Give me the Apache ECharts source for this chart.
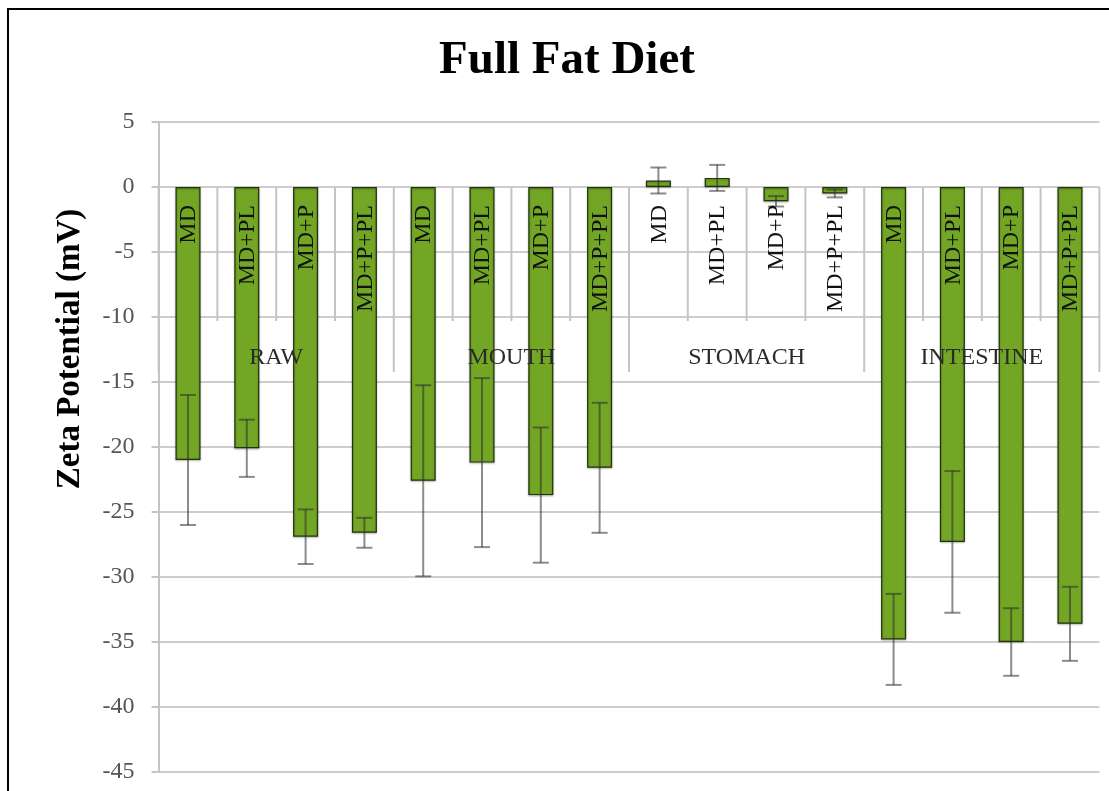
<!DOCTYPE html>
<html>
<head>
<meta charset="utf-8">
<script src="https://cdn.jsdelivr.net/npm/echarts@6/dist/echarts.min.js"></script>
<style>
  html, body { margin: 0; padding: 0; background: #fff; }
  #chart { width: 1109px; height: 791px; }
</style>
</head>
<body>
<div id="chart"></div>
<script>
// Treatment groups and the four formulations measured in each
const groups = ['RAW', 'MOUTH', 'STOMACH', 'INTESTINE'];
const formulations = ['MD', 'MD+PL', 'MD+P', 'MD+P+PL'];

// Mean zeta potential (mV), in group order
const zeta = [
  -21.0, -20.1, -26.9, -26.6,   // RAW
  -22.6, -21.2, -23.7, -21.6,   // MOUTH
   0.5,   0.7,  -1.1,  -0.5,    // STOMACH
  -34.8, -27.3, -35.0, -33.6    // INTESTINE
];

// Standard deviation (mV)
const zetaSD = [
  5.0, 2.2, 2.1, 1.15,
  7.35, 6.5, 5.2, 5.0,
  1.0, 1.0, 0.4, 0.3,
  3.5, 5.45, 2.6, 2.85
];

// Y axis range
const yMin = -45, yMax = 5, yStep = 5;

const SERIF = '"Liberation Serif", "DejaVu Serif", serif';

const categories = [];
groups.forEach(g => formulations.forEach(f => categories.push(g + ' ' + f)));
const subLabels = categories.map((c, i) => formulations[i % formulations.length]);

const errData = zeta.map((v, i) => [i, v - zetaSD[i], v + zetaSD[i]]);
const axisData = categories.map((c, i) => [i, 0]);

const chart = echarts.init(document.getElementById('chart'), null, { renderer: 'canvas' });

// Error bars: whisker + caps, semi-transparent so they show darker over the bars
function renderError(params, api) {
  const i = api.value(0);
  const lo = api.coord([i, api.value(1)]);
  const hi = api.coord([i, api.value(2)]);
  const cap = 8;
  const style = { stroke: 'rgba(45,45,45,0.55)', lineWidth: 2 };
  return {
    type: 'group',
    children: [
      { type: 'line', shape: { x1: lo[0], y1: lo[1], x2: hi[0], y2: hi[1] }, style },
      { type: 'line', shape: { x1: lo[0] - cap, y1: lo[1], x2: lo[0] + cap, y2: lo[1] }, style },
      { type: 'line', shape: { x1: hi[0] - cap, y1: hi[1], x2: hi[0] + cap, y2: hi[1] }, style }
    ]
  };
}

// Two-level category axis drawn at the zero line: separators, formulation names, group names
function renderAxis(params, api) {
  const i = api.value(0);
  const c = api.coord([i, 0]);
  const band = api.size([1, 0])[0];
  const per = formulations.length;
  const children = [];
  const sepStyle = { stroke: '#c4c4c4', lineWidth: 2 };
  const leftX = c[0] - band / 2;
  const rightX = c[0] + band / 2;
  // left separator of this category
  const isGroupStart = i % per === 0;
  children.push({
    type: 'line',
    shape: { x1: leftX, y1: c[1], x2: leftX, y2: c[1] + (isGroupStart ? 185 : 134) },
    style: sepStyle
  });
  if (i === categories.length - 1) {
    children.push({
      type: 'line',
      shape: { x1: rightX, y1: c[1], x2: rightX, y2: c[1] + 185 },
      style: sepStyle
    });
  }
  // formulation name, reading upward
  children.push({
    type: 'text',
    x: c[0] + 1,
    y: c[1] + 18,
    rotation: Math.PI / 2,
    style: {
      text: subLabels[i],
      font: '24px ' + SERIF,
      fill: '#111',
      align: 'right',
      verticalAlign: 'middle'
    },
    z2: 10
  });
  // group name, centred under its four bars (right edge of the second band)
  if (i % per === 1) {
    children.push({
      type: 'text',
      x: rightX,
      y: c[1] + 171,
      style: {
        text: groups[Math.floor(i / per)],
        font: '24px ' + SERIF,
        fill: '#2a2a2a',
        align: 'center',
        verticalAlign: 'middle'
      },
      z2: 10
    });
  }
  return { type: 'group', children };
}

const option = {
  backgroundColor: '#fff',
  animation: false,
  title: {
    text: 'Full Fat Diet',
    left: 562,
    top: 32,
    textAlign: 'center',
    textStyle: { fontFamily: SERIF, fontWeight: 'bold', fontSize: 47, color: '#000' }
  },
  graphic: [
    {
      type: 'rect',
      shape: { x: 8, y: 9, width: 1200, height: 900 },
      style: { fill: 'none', stroke: '#000', lineWidth: 2 },
      silent: true
    },
    {
      type: 'text',
      x: 70,
      y: 349,
      rotation: Math.PI / 2,
      style: {
        text: 'Zeta Potential (mV)',
        font: 'bold 33px ' + SERIF,
        fill: '#000',
        align: 'center',
        verticalAlign: 'middle'
      }
    }
  ],
  grid: { left: 158.6, right: 9.6, top: 122, bottom: 19, containLabel: false },
  xAxis: {
    type: 'category',
    data: categories,
    boundaryGap: true,
    axisLine: { show: false },
    axisTick: { show: false },
    axisLabel: { show: false },
    splitLine: { show: false }
  },
  yAxis: {
    type: 'value',
    min: yMin,
    max: yMax,
    interval: yStep,
    axisLine: { show: true, lineStyle: { color: '#c4c4c4', width: 2 } },
    axisTick: { show: true, length: 7, lineStyle: { color: '#c4c4c4', width: 2 } },
    axisLabel: { margin: 24, fontFamily: SERIF, fontSize: 24, color: '#555' },
    splitLine: { show: true, lineStyle: { color: '#cdcdcd', width: 2 } }
  },
  series: [
    {
      type: 'bar',
      data: zeta,
      barWidth: 25,
      itemStyle: {
        color: '#72a624',
        borderColor: '#23310c',
        borderWidth: 1.2,
        shadowColor: 'rgba(0,0,0,0.25)',
        shadowBlur: 2,
        shadowOffsetY: 1
      },
      z: 3
    },
    {
      type: 'custom',
      data: errData,
      renderItem: renderError,
      encode: { x: 0, y: [1, 2] },
      z: 4
    },
    {
      type: 'custom',
      data: axisData,
      renderItem: renderAxis,
      encode: { x: 0, y: 1 },
      z: 5,
      silent: true
    }
  ]
};

chart.setOption(option);
</script>
</body>
</html>
